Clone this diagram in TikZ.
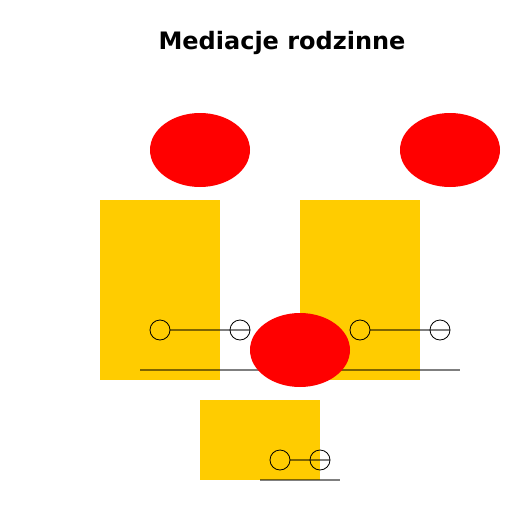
\documentclass[tikz,border=0pt]{standalone}
\usepackage{fontspec}
\newfontfamily\titlefont{DejaVu Sans}
\usetikzlibrary{shapes.geometric}
\definecolor{kolor}{HTML}{FFCC00}

\begin{document}
\begin{tikzpicture}[x=1pt,y=-1pt,
  osoba/.style={ellipse, fill=red, minimum width=100pt, minimum height=74pt, inner sep=0pt},
  pole/.style={fill=kolor, inner sep=0pt, anchor=north west},
  kolko/.style={circle, draw, line width=0.8pt, minimum size=20pt, inner sep=0pt},
  linia/.style={draw=black, opacity=0.5, line width=1.4pt}]
  \useasboundingbox (0,0) rectangle (512,512);
  \node (tytul) at (282,43) {\titlefont\bfseries\fontsize{24}{28}\selectfont Mediacje rodzinne};
%  pola
  \node[pole, minimum width=120pt, minimum height=180pt] (p1) at (100,200) {};
  \node[pole, minimum width=120pt, minimum height=180pt] (p2) at (300,200) {};
  \node[pole, minimum width=120pt, minimum height=80pt] (p3) at (200,400) {};
%  linie
  \coordinate (l1) at (140,370);
  \coordinate (l2) at (460,370);
  \coordinate (l3) at (260,480);
  \coordinate (l4) at (340,480);
  \path[linia] (l1) -- (l2) (l3) -- (l4);
%  kolka
  \node[kolko] (k1) at (160,330) {};
  \node[kolko] (k2) at (240,330) {};
  \node[kolko] (k3) at (360,330) {};
  \node[kolko] (k4) at (440,330) {};
  \node[kolko] (k5) at (280,460) {};
  \node[kolko] (k6) at (320,460) {};
  \path[linia]
  (k1.east) -- (k2.east)
  (k3.east) -- (k4.east)
  (k5.east) -- (k6.east);
%  osoby
  \node[osoba] (o1) at (200,150) {};
  \node[osoba] (o2) at (450,150) {};
  \node[osoba] (o3) at (300,350) {};
\end{tikzpicture}
\end{document}
